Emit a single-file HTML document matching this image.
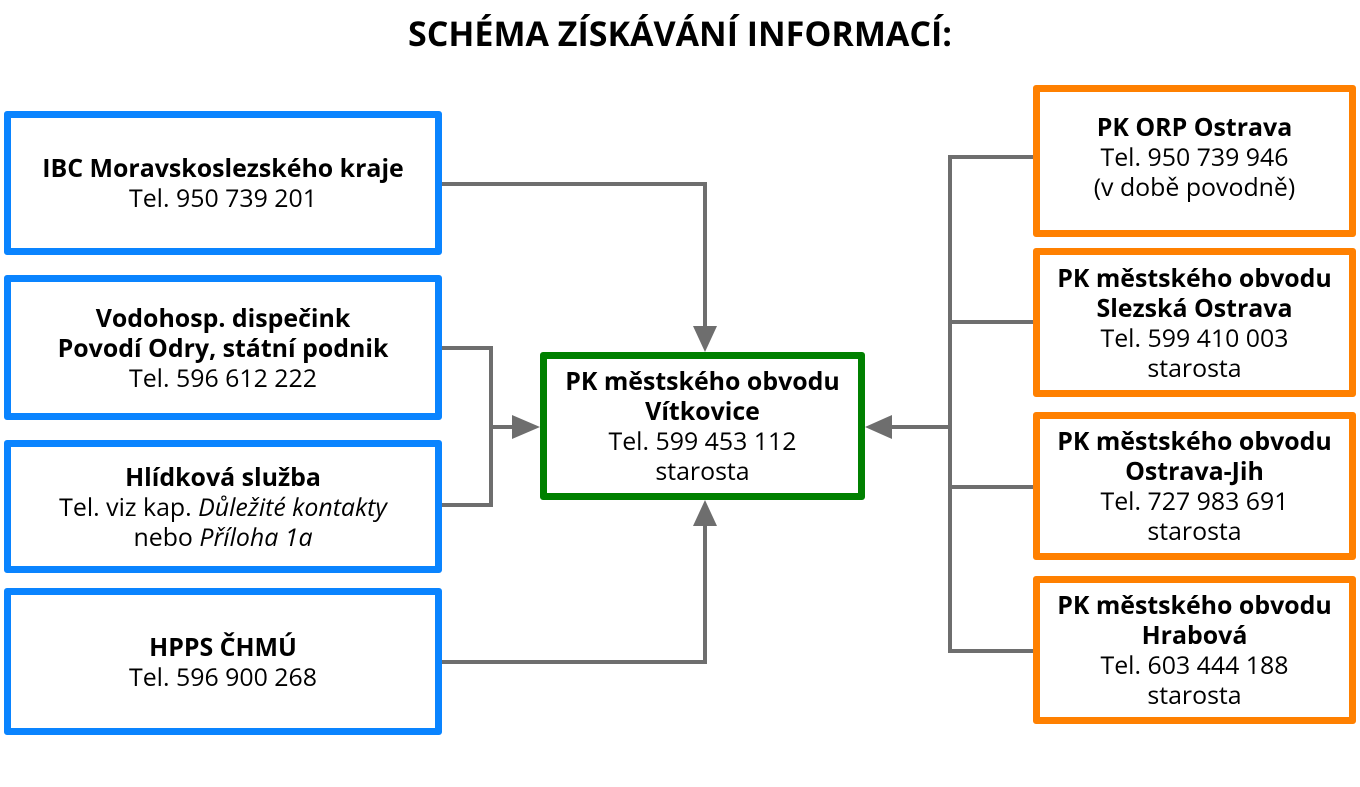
<!DOCTYPE html>
<html><head><meta charset="utf-8"><style>
body{margin:0;width:1360px;height:787px;background:#fff;position:relative;font-family:"Open Sans","Liberation Sans","DejaVu Sans",sans-serif;overflow:hidden}
.t{position:absolute;left:0;width:1360px;top:10px;text-align:center;font-weight:bold;font-size:34px;color:#000}
.b{position:absolute;box-sizing:border-box;border:7px solid;border-radius:3px;display:flex;flex-direction:column;justify-content:center;align-items:center;text-align:center;font-size:24.9px;line-height:30px;color:#000}
.bl{border-color:#0a84ff}.or{border-color:#ff8000}.gr{border-color:#008000}
b{font-weight:bold}
svg{position:absolute;left:0;top:0}
</style></head><body>
<div class="t">SCHÉMA ZÍSKÁVÁNÍ INFORMACÍ:</div>
<svg width="1360" height="787">
<g fill="none" stroke="#6e6e6e" stroke-width="4">
<polyline points="442,184 705,184 705,330"/>
<polyline points="442,348 491,348 491,505 442,505"/>
<line x1="491" y1="427" x2="515" y2="427"/>
<polyline points="442,662 705,662 705,522"/>
<polyline points="1033,157 950,157 950,651 1033,651"/>
<line x1="950" y1="322" x2="1033" y2="322"/>
<line x1="950" y1="487" x2="1033" y2="487"/>
<line x1="950" y1="427" x2="888" y2="427"/>
</g>
<g fill="#6e6e6e">
<polygon points="693,326 717,326 705,352"/>
<polygon points="512,415 512,439 540,427"/>
<polygon points="693,526 717,526 705,500"/>
<polygon points="892,415 892,439 865,427"/>
</g>
</svg>
<div class="b bl" style="left:4px;top:111px;width:438px;height:144px"><b>IBC Moravskoslezského kraje</b>Tel. 950 739 201</div>
<div class="b bl" style="left:4px;top:275px;width:438px;height:145px"><b>Vodohosp. dispečink</b><b>Povodí Odry, státní podnik</b>Tel. 596 612 222</div>
<div class="b bl" style="left:4px;top:440px;width:438px;height:133px"><b>Hlídková služba</b><span>Tel. viz kap. <i>Důležité kontakty</i></span><span>nebo <i>Příloha 1a</i></span></div>
<div class="b bl" style="left:4px;top:588px;width:438px;height:147px"><b>HPPS ČHMÚ</b>Tel. 596 900 268</div>
<div class="b gr" style="left:540px;top:352px;width:325px;height:148px"><b>PK městského obvodu</b><b>Vítkovice</b>Tel. 599 453 112<span>starosta</span></div>
<div class="b or" style="left:1033px;top:85px;width:323px;height:152px;padding-bottom:8px"><b>PK ORP Ostrava</b>Tel. 950 739 946<span>(v době povodně)</span></div>
<div class="b or" style="left:1033px;top:248px;width:323px;height:149px"><b>PK městského obvodu</b><b>Slezská Ostrava</b>Tel. 599 410 003<span>starosta</span></div>
<div class="b or" style="left:1033px;top:412px;width:323px;height:148px"><b>PK městského obvodu</b><b>Ostrava-Jih</b>Tel. 727 983 691<span>starosta</span></div>
<div class="b or" style="left:1033px;top:576px;width:323px;height:148px"><b>PK městského obvodu</b><b>Hrabová</b>Tel. 603 444 188<span>starosta</span></div>
</body></html>
